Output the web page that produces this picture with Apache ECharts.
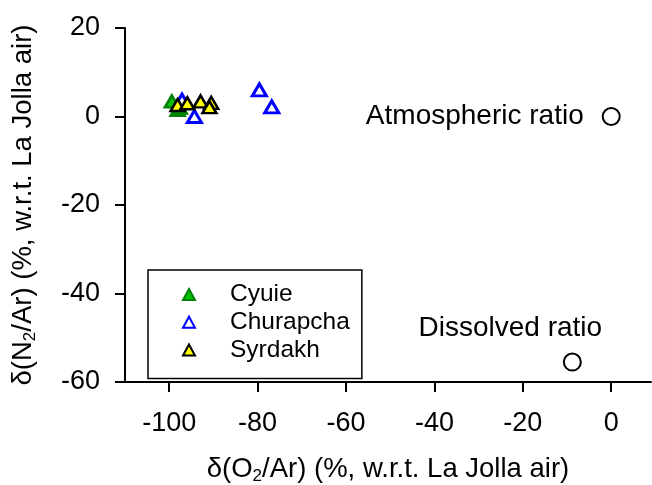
<!DOCTYPE html>
<html>
<head>
<meta charset="utf-8">
<script src="https://cdn.jsdelivr.net/npm/echarts@6/dist/echarts.min.js"></script>
<style>html,body{margin:0;padding:0;background:#fff}#c{width:652px;height:485px}</style>
</head>
<body>
<div id="c"></div>
<script>
var xTicks = [-100, -80, -60, -40, -20, 0];
var yTicks = [-60, -40, -20, 0, 20];
var cyuie = [[-99.4, 3.4], [-98.1, 1.5], [-97.6, 2.0]];
var churapcha = [[-79.6, 6.0], [-76.8, 2.2], [-94.3, 0.0], [-97.1, 3.7]];
var syrdakh = [[-98.1, 2.6], [-95.9, 3.0], [-92.9, 3.4], [-90.5, 3.1], [-90.9, 2.1]];
var atmospheric = [[0, 0]];
var dissolved = [[-8.8, -55.5]];

var FONT = 'Liberation Sans, Arial, sans-serif';
var chart = echarts.init(document.getElementById('c'));
var titleRich = {
  d: { fontSize: 27.5, color: '#000', fontFamily: FONT },
  s: { fontSize: 17, color: '#000', fontFamily: FONT, padding: [14, 0, 0, 0] }
};
chart.setOption({
  animation: false,
  backgroundColor: '#fff',
  textStyle: { fontFamily: FONT },
  grid: { left: 125, top: 28, right: 1, bottom: 103, containLabel: false, outerBoundsMode: 'none' },
  xAxis: {
    type: 'value', min: -110, max: 9,
    name: '{d|δ(O}{s|2}{d|/Ar) (%, w.r.t. La Jolla air)}',
    nameLocation: 'middle', nameGap: 72,
    nameTextStyle: { rich: titleRich },
    axisLine: { show: true, onZero: false, lineStyle: { color: '#000', width: 2 } },
    axisTick: { show: true, inside: false, length: 10, lineStyle: { color: '#000', width: 2 }, customValues: xTicks },
    axisLabel: { fontSize: 27, color: '#000', margin: 28, customValues: xTicks, fontFamily: FONT },
    splitLine: { show: false }
  },
  yAxis: {
    type: 'value', min: -60, max: 20, interval: 20,
    name: '{d|δ(N}{s|2}{d|/Ar) (%, w.r.t. La Jolla air)}',
    nameLocation: 'middle', nameGap: 86, nameRotate: 90,
    nameTextStyle: { rich: titleRich },
    axisLine: { show: true, onZero: false, lineStyle: { color: '#000', width: 2 } },
    axisTick: { show: true, inside: false, length: 10, lineStyle: { color: '#000', width: 2 }, customValues: yTicks },
    axisLabel: { fontSize: 27, color: '#000', margin: 25, customValues: yTicks, fontFamily: FONT },
    splitLine: { show: false }
  },
  legend: {
    orient: 'vertical', left: 148, top: 270,
    padding: [12, 12, 16, 34],
    borderColor: '#000', borderWidth: 1.5,
    itemWidth: 12, itemHeight: 11, itemGap: 2.7,
    textStyle: { fontSize: 24.5, color: '#000', lineHeight: 25, padding: [0, 0, 0, 30], fontFamily: FONT },
    data: ['Cyuie', 'Churapcha', 'Syrdakh']
  },
  series: [
    { name: 'Cyuie', type: 'scatter', data: cyuie, symbol: 'triangle', symbolSize: [14, 12],
      itemStyle: { color: '#00c000', borderColor: '#008000', borderWidth: 2.5, opacity: 1 }, z: 2 },
    { name: 'Churapcha', type: 'scatter', data: churapcha, symbol: 'triangle', symbolSize: [14, 12],
      itemStyle: { color: '#fff', borderColor: '#0000ff', borderWidth: 3, opacity: 1 }, z: 3 },
    { name: 'Syrdakh', type: 'scatter', data: syrdakh, symbol: 'triangle', symbolSize: [14, 12],
      itemStyle: { color: '#ffff00', borderColor: '#000', borderWidth: 2.5, opacity: 1 }, z: 4 },
    { name: 'Atmospheric ratio', type: 'scatter', data: atmospheric, symbol: 'circle', symbolSize: 17,
      itemStyle: { color: '#fff', borderColor: '#000', borderWidth: 2, opacity: 1 },
      label: { show: true, position: 'left', distance: 18, formatter: 'Atmospheric ratio', fontSize: 28, color: '#000', fontFamily: FONT } },
    { name: 'Dissolved ratio', type: 'scatter', data: dissolved, symbol: 'circle', symbolSize: 17,
      itemStyle: { color: '#fff', borderColor: '#000', borderWidth: 2, opacity: 1 },
      label: { show: true, position: 'top', distance: 10, offset: [-62, 0], formatter: 'Dissolved ratio', fontSize: 28, color: '#000', fontFamily: FONT } }
  ]
});
</script>
</body>
</html>
